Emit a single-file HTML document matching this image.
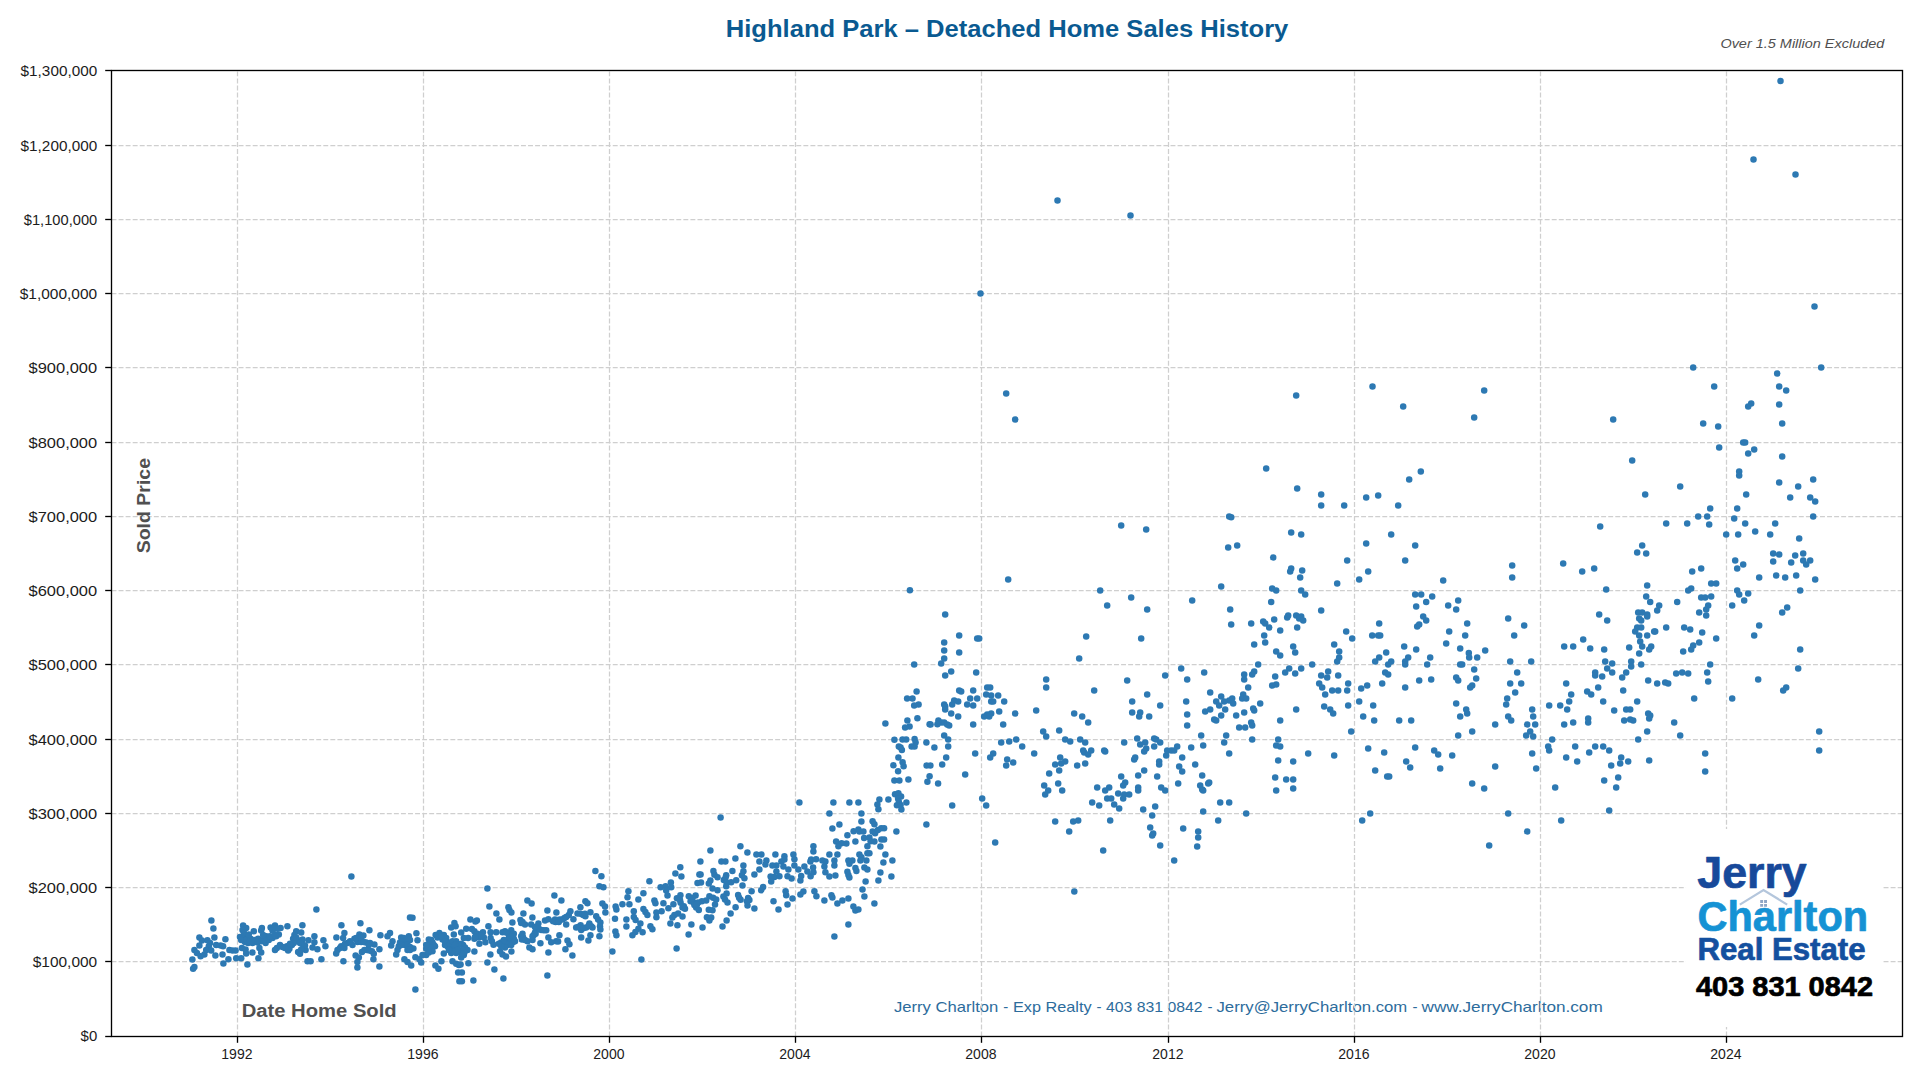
<!DOCTYPE html><html><head><meta charset="utf-8"><title>Highland Park – Detached Home Sales History</title>
<style>html,body{margin:0;padding:0;background:#fff;}body{width:1920px;height:1080px;overflow:hidden;}svg{display:block;font-family:"Liberation Sans",sans-serif;}</style></head><body>
<svg width="1920" height="1080" viewBox="0 0 1920 1080">
<rect width="1920" height="1080" fill="#fff"/>
<g font-size="15" fill="#2d6c9c">
<text x="893.9" y="1011.8" textLength="104.4" lengthAdjust="spacingAndGlyphs">Jerry Charlton</text>
<text x="1003.3" y="1011.8" textLength="5" lengthAdjust="spacingAndGlyphs">-</text>
<text x="1013.0" y="1011.8" textLength="78.6" lengthAdjust="spacingAndGlyphs">Exp Realty</text>
<text x="1096.6" y="1011.8" textLength="5" lengthAdjust="spacingAndGlyphs">-</text>
<text x="1105.9" y="1011.8" textLength="96.7" lengthAdjust="spacingAndGlyphs">403 831 0842</text>
<text x="1207.4" y="1011.8" textLength="5" lengthAdjust="spacingAndGlyphs">-</text>
<text x="1216.5" y="1011.8" textLength="190.8" lengthAdjust="spacingAndGlyphs">Jerry@JerryCharlton.com</text>
<text x="1412.5" y="1011.8" textLength="5" lengthAdjust="spacingAndGlyphs">-</text>
<text x="1421.5" y="1011.8" textLength="181.2" lengthAdjust="spacingAndGlyphs">www.JerryCharlton.com</text>
</g>
<g stroke="#cfcfcf" stroke-width="1.25" stroke-dasharray="4.93 2.13" fill="none">
<path d="M237.5 1036.5V70.5"/>
<path d="M423.5 1036.5V70.5"/>
<path d="M609.5 1036.5V70.5"/>
<path d="M795.5 1036.5V70.5"/>
<path d="M981.5 1036.5V70.5"/>
<path d="M1168.5 1036.5V70.5"/>
<path d="M1354.5 1036.5V70.5"/>
<path d="M1540.5 1036.5V70.5"/>
<path d="M1726.5 1036.5V70.5"/>
<path d="M111.5 961.5H1902.5"/>
<path d="M111.5 887.5H1902.5"/>
<path d="M111.5 813.5H1902.5"/>
<path d="M111.5 739.5H1902.5"/>
<path d="M111.5 664.5H1902.5"/>
<path d="M111.5 590.5H1902.5"/>
<path d="M111.5 516.5H1902.5"/>
<path d="M111.5 442.5H1902.5"/>
<path d="M111.5 367.5H1902.5"/>
<path d="M111.5 293.5H1902.5"/>
<path d="M111.5 219.5H1902.5"/>
<path d="M111.5 145.5H1902.5"/>
</g>
<text x="241.7" y="1016.7" font-size="18" font-weight="bold" fill="#505050" textLength="155" lengthAdjust="spacingAndGlyphs">Date Home Sold</text>
<text transform="translate(150.1 553.3) rotate(-90)" font-size="18" font-weight="bold" fill="#505050" textLength="95.3" lengthAdjust="spacingAndGlyphs">Sold Price</text>
<g fill="#2d79b3">
<circle cx="1780.5" cy="81" r="3.25"/><circle cx="1753.5" cy="159.5" r="3.25"/><circle cx="1795.5" cy="174.5" r="3.25"/><circle cx="1057.5" cy="200.5" r="3.25"/><circle cx="1130.5" cy="215.5" r="3.25"/><circle cx="980.5" cy="293.5" r="3.25"/><circle cx="1814.5" cy="306.5" r="3.25"/><circle cx="1006.2" cy="393.5" r="3.25"/><circle cx="1015.2" cy="419.5" r="3.25"/><circle cx="1296.2" cy="395.5" r="3.25"/><circle cx="1372.5" cy="386.5" r="3.25"/><circle cx="1403.2" cy="406.5" r="3.25"/><circle cx="1266.2" cy="468.5" r="3.25"/><circle cx="1409.2" cy="479.5" r="3.25"/><circle cx="1297.2" cy="488.5" r="3.25"/><circle cx="1321.2" cy="494.5" r="3.25"/><circle cx="1366.2" cy="497.5" r="3.25"/><circle cx="1378.2" cy="495.5" r="3.25"/><circle cx="1321.2" cy="505.5" r="3.25"/><circle cx="1344.2" cy="505.5" r="3.25"/><circle cx="1398.2" cy="505.5" r="3.25"/><circle cx="1229.2" cy="516.5" r="3.25"/><circle cx="1231.2" cy="517.2" r="3.25"/><circle cx="1121.2" cy="525.5" r="3.25"/><circle cx="1146.2" cy="529.5" r="3.25"/><circle cx="1291.2" cy="532.5" r="3.25"/><circle cx="1301.2" cy="534.5" r="3.25"/><circle cx="1391.2" cy="534.5" r="3.25"/><circle cx="1237.2" cy="545.5" r="3.25"/><circle cx="1228.2" cy="547.5" r="3.25"/><circle cx="1366.2" cy="543.5" r="3.25"/><circle cx="1415.2" cy="545.5" r="3.25"/><circle cx="1273.2" cy="557.5" r="3.25"/><circle cx="1347.2" cy="560.5" r="3.25"/><circle cx="1405.2" cy="560.5" r="3.25"/><circle cx="1291.2" cy="568.5" r="3.25"/><circle cx="1290.2" cy="571.5" r="3.25"/><circle cx="1302.2" cy="570.5" r="3.25"/><circle cx="1368.2" cy="571.5" r="3.25"/><circle cx="1300.2" cy="577.5" r="3.25"/><circle cx="1008.2" cy="579.5" r="3.25"/><circle cx="1359.2" cy="579.5" r="3.25"/><circle cx="1337.2" cy="583.5" r="3.25"/><circle cx="1221.2" cy="586.5" r="3.25"/><circle cx="1100.2" cy="590.5" r="3.25"/><circle cx="1272.2" cy="588.5" r="3.25"/><circle cx="1276.2" cy="590.5" r="3.25"/><circle cx="1301.2" cy="590.5" r="3.25"/><circle cx="1305.2" cy="594.5" r="3.25"/><circle cx="1131.2" cy="597.5" r="3.25"/><circle cx="1415.2" cy="594.5" r="3.25"/><circle cx="1484.2" cy="390.5" r="3.25"/><circle cx="1474.2" cy="417.5" r="3.25"/><circle cx="1420.8" cy="471.5" r="3.25"/><circle cx="1613.2" cy="419.5" r="3.25"/><circle cx="1693.2" cy="367.5" r="3.25"/><circle cx="1821.2" cy="367.5" r="3.25"/><circle cx="1777.2" cy="373.5" r="3.25"/><circle cx="1714.2" cy="386.5" r="3.25"/><circle cx="1779.2" cy="386.5" r="3.25"/><circle cx="1786.2" cy="390.5" r="3.25"/><circle cx="1751.2" cy="403.5" r="3.25"/><circle cx="1748.2" cy="406.5" r="3.25"/><circle cx="1779.2" cy="404.5" r="3.25"/><circle cx="1703.2" cy="423.5" r="3.25"/><circle cx="1718.2" cy="426.5" r="3.25"/><circle cx="1782.2" cy="423.5" r="3.25"/><circle cx="1743.2" cy="442.5" r="3.25"/><circle cx="1745.2" cy="442.5" r="3.25"/><circle cx="1719.2" cy="447.5" r="3.25"/><circle cx="1754.2" cy="449.5" r="3.25"/><circle cx="1748.2" cy="453.5" r="3.25"/><circle cx="1782.2" cy="456.5" r="3.25"/><circle cx="1632.2" cy="460.5" r="3.25"/><circle cx="1739.2" cy="471.5" r="3.25"/><circle cx="1739.2" cy="475.5" r="3.25"/><circle cx="1779.2" cy="482.5" r="3.25"/><circle cx="1813.2" cy="479.5" r="3.25"/><circle cx="1798.2" cy="486.5" r="3.25"/><circle cx="1680.2" cy="486.5" r="3.25"/><circle cx="1645.2" cy="494.5" r="3.25"/><circle cx="1746.2" cy="494.5" r="3.25"/><circle cx="1790.2" cy="497.5" r="3.25"/><circle cx="1810.2" cy="497.5" r="3.25"/><circle cx="1815.2" cy="501.5" r="3.25"/><circle cx="1710.2" cy="508.5" r="3.25"/><circle cx="1737.2" cy="508.5" r="3.25"/><circle cx="1698.2" cy="516.5" r="3.25"/><circle cx="1707.2" cy="516.5" r="3.25"/><circle cx="1813.2" cy="516.5" r="3.25"/><circle cx="1734.2" cy="518.5" r="3.25"/><circle cx="1666.2" cy="523.5" r="3.25"/><circle cx="1687.2" cy="523.5" r="3.25"/><circle cx="1709.2" cy="524.5" r="3.25"/><circle cx="1745.2" cy="523.5" r="3.25"/><circle cx="1775.2" cy="523.5" r="3.25"/><circle cx="1600.2" cy="526.5" r="3.25"/><circle cx="1755.2" cy="531.5" r="3.25"/><circle cx="1726.2" cy="534.5" r="3.25"/><circle cx="1738.2" cy="534.5" r="3.25"/><circle cx="1770.2" cy="534.5" r="3.25"/><circle cx="1799.2" cy="538.5" r="3.25"/><circle cx="1642.2" cy="545.5" r="3.25"/><circle cx="1637.2" cy="552.5" r="3.25"/><circle cx="1646.2" cy="553.5" r="3.25"/><circle cx="1773.2" cy="553.5" r="3.25"/><circle cx="1779.2" cy="554.5" r="3.25"/><circle cx="1803.2" cy="553.5" r="3.25"/><circle cx="1795.2" cy="555.5" r="3.25"/><circle cx="1735.2" cy="560.5" r="3.25"/><circle cx="1773.2" cy="561.5" r="3.25"/><circle cx="1803.2" cy="560.5" r="3.25"/><circle cx="1810.2" cy="560.5" r="3.25"/><circle cx="1791.2" cy="562.5" r="3.25"/><circle cx="1806.2" cy="564.5" r="3.25"/><circle cx="1743.2" cy="564.5" r="3.25"/><circle cx="1737.2" cy="568.5" r="3.25"/><circle cx="1701.2" cy="568.5" r="3.25"/><circle cx="1563.2" cy="563.5" r="3.25"/><circle cx="1512.2" cy="565.5" r="3.25"/><circle cx="1582.2" cy="571.5" r="3.25"/><circle cx="1594.2" cy="568.5" r="3.25"/><circle cx="1692.2" cy="571.5" r="3.25"/><circle cx="1512.2" cy="577.5" r="3.25"/><circle cx="1443.2" cy="580.5" r="3.25"/><circle cx="1759.2" cy="577.5" r="3.25"/><circle cx="1776.2" cy="575.5" r="3.25"/><circle cx="1785.2" cy="577.5" r="3.25"/><circle cx="1796.2" cy="575.5" r="3.25"/><circle cx="1815.2" cy="579.5" r="3.25"/><circle cx="1711.2" cy="583.5" r="3.25"/><circle cx="1716.2" cy="583.5" r="3.25"/><circle cx="1647.2" cy="585.5" r="3.25"/><circle cx="1691.2" cy="588.5" r="3.25"/><circle cx="1688.2" cy="590.5" r="3.25"/><circle cx="1606.2" cy="589.5" r="3.25"/><circle cx="1737.2" cy="590.5" r="3.25"/><circle cx="1800.2" cy="590.5" r="3.25"/><circle cx="1739.2" cy="594.5" r="3.25"/><circle cx="1748.2" cy="593.5" r="3.25"/><circle cx="1421.2" cy="594.5" r="3.25"/><circle cx="1432.2" cy="596.5" r="3.25"/><circle cx="1646.2" cy="596.5" r="3.25"/><circle cx="1701.2" cy="597.5" r="3.25"/><circle cx="1705.2" cy="597.5" r="3.25"/><circle cx="1711.2" cy="596.5" r="3.25"/><circle cx="1426.2" cy="602" r="3.25"/><circle cx="1458.2" cy="600.5" r="3.25"/><circle cx="1448.2" cy="605.5" r="3.25"/><circle cx="1456.2" cy="609.5" r="3.25"/><circle cx="1423.2" cy="616.5" r="3.25"/><circle cx="1426.2" cy="620.5" r="3.25"/><circle cx="1467.2" cy="623.5" r="3.25"/><circle cx="1508.2" cy="618.5" r="3.25"/><circle cx="1524.2" cy="625.5" r="3.25"/><circle cx="1449.2" cy="631.5" r="3.25"/><circle cx="1465.2" cy="635.5" r="3.25"/><circle cx="1514.2" cy="635.5" r="3.25"/><circle cx="1446.2" cy="643.5" r="3.25"/><circle cx="1460.2" cy="648.5" r="3.25"/><circle cx="1485.2" cy="650.5" r="3.25"/><circle cx="1468.8" cy="653" r="3.25"/><circle cx="1469.2" cy="657.5" r="3.25"/><circle cx="1477.2" cy="657.5" r="3.25"/><circle cx="1430.2" cy="657.5" r="3.25"/><circle cx="1427.2" cy="664.5" r="3.25"/><circle cx="1460.2" cy="664.5" r="3.25"/><circle cx="1462.2" cy="664.5" r="3.25"/><circle cx="1510.2" cy="661.5" r="3.25"/><circle cx="1531.2" cy="661.5" r="3.25"/><circle cx="1474.2" cy="669.5" r="3.25"/><circle cx="1517.2" cy="672.5" r="3.25"/><circle cx="1456.2" cy="677.5" r="3.25"/><circle cx="1458.2" cy="680.5" r="3.25"/><circle cx="1476.2" cy="678.5" r="3.25"/><circle cx="1431.2" cy="679.5" r="3.25"/><circle cx="1472.2" cy="685.5" r="3.25"/><circle cx="1470.2" cy="687.5" r="3.25"/><circle cx="1510.2" cy="683.5" r="3.25"/><circle cx="1521.2" cy="683.5" r="3.25"/><circle cx="1515.2" cy="692.5" r="3.25"/><circle cx="1507.2" cy="698.5" r="3.25"/><circle cx="1506.2" cy="704.5" r="3.25"/><circle cx="1456.2" cy="703.5" r="3.25"/><circle cx="1466.2" cy="709.5" r="3.25"/><circle cx="1467.2" cy="713.5" r="3.25"/><circle cx="1460.2" cy="716.5" r="3.25"/><circle cx="1532.2" cy="709.5" r="3.25"/><circle cx="1533.2" cy="716.5" r="3.25"/><circle cx="1508.2" cy="716.5" r="3.25"/><circle cx="1511.2" cy="720.5" r="3.25"/><circle cx="1495.2" cy="724.5" r="3.25"/><circle cx="1527.2" cy="724.5" r="3.25"/><circle cx="1535.2" cy="724.5" r="3.25"/><circle cx="1472.2" cy="731.5" r="3.25"/><circle cx="1530.2" cy="731.5" r="3.25"/><circle cx="1458.2" cy="735.5" r="3.25"/><circle cx="1526.2" cy="735.5" r="3.25"/><circle cx="1533.2" cy="736.5" r="3.25"/><circle cx="1434.2" cy="750.5" r="3.25"/><circle cx="1438.2" cy="754.5" r="3.25"/><circle cx="1452.2" cy="755.5" r="3.25"/><circle cx="1532.2" cy="753.5" r="3.25"/><circle cx="1440.2" cy="768.5" r="3.25"/><circle cx="1495.2" cy="766.5" r="3.25"/><circle cx="1536.2" cy="768.5" r="3.25"/><circle cx="1472.2" cy="783.5" r="3.25"/><circle cx="1484.2" cy="788.5" r="3.25"/><circle cx="1508.2" cy="813.5" r="3.25"/><circle cx="1527.2" cy="831.5" r="3.25"/><circle cx="1489.2" cy="845.5" r="3.25"/><circle cx="1650.2" cy="602" r="3.25"/><circle cx="1659.2" cy="605.5" r="3.25"/><circle cx="1677.2" cy="602" r="3.25"/><circle cx="1708.2" cy="605.5" r="3.25"/><circle cx="1657.2" cy="610.5" r="3.25"/><circle cx="1638.2" cy="612.5" r="3.25"/><circle cx="1642.2" cy="612.5" r="3.25"/><circle cx="1647.2" cy="614.5" r="3.25"/><circle cx="1647.2" cy="616.5" r="3.25"/><circle cx="1599.2" cy="614.5" r="3.25"/><circle cx="1607.2" cy="620.5" r="3.25"/><circle cx="1639.2" cy="618.5" r="3.25"/><circle cx="1641.2" cy="620.5" r="3.25"/><circle cx="1699.2" cy="612.5" r="3.25"/><circle cx="1706.2" cy="609.5" r="3.25"/><circle cx="1706.2" cy="615.5" r="3.25"/><circle cx="1637.2" cy="627.5" r="3.25"/><circle cx="1641.2" cy="627.5" r="3.25"/><circle cx="1635.2" cy="631.5" r="3.25"/><circle cx="1639.2" cy="635.5" r="3.25"/><circle cx="1647.2" cy="635.5" r="3.25"/><circle cx="1654.2" cy="631.5" r="3.25"/><circle cx="1655.2" cy="631.5" r="3.25"/><circle cx="1666.2" cy="627.5" r="3.25"/><circle cx="1684.2" cy="627.5" r="3.25"/><circle cx="1690.2" cy="629.5" r="3.25"/><circle cx="1702.2" cy="632.5" r="3.25"/><circle cx="1716.2" cy="638.5" r="3.25"/><circle cx="1583.2" cy="639.5" r="3.25"/><circle cx="1640.2" cy="641.5" r="3.25"/><circle cx="1642.2" cy="646.5" r="3.25"/><circle cx="1651.2" cy="646.5" r="3.25"/><circle cx="1649.2" cy="649.5" r="3.25"/><circle cx="1629.2" cy="647.5" r="3.25"/><circle cx="1639.2" cy="653.5" r="3.25"/><circle cx="1564.2" cy="646.5" r="3.25"/><circle cx="1573.2" cy="646.5" r="3.25"/><circle cx="1590.2" cy="648.5" r="3.25"/><circle cx="1604.2" cy="649.5" r="3.25"/><circle cx="1699.2" cy="642.5" r="3.25"/><circle cx="1693.2" cy="645.5" r="3.25"/><circle cx="1691.2" cy="649.5" r="3.25"/><circle cx="1683.2" cy="651.5" r="3.25"/><circle cx="1605.2" cy="661.5" r="3.25"/><circle cx="1612.2" cy="663.5" r="3.25"/><circle cx="1631.2" cy="661.5" r="3.25"/><circle cx="1631.2" cy="666.5" r="3.25"/><circle cx="1641.2" cy="664.5" r="3.25"/><circle cx="1607.2" cy="668.5" r="3.25"/><circle cx="1612.2" cy="672.5" r="3.25"/><circle cx="1626.2" cy="672.5" r="3.25"/><circle cx="1595.2" cy="672.5" r="3.25"/><circle cx="1595.2" cy="675.5" r="3.25"/><circle cx="1602.2" cy="676.5" r="3.25"/><circle cx="1622.2" cy="677.5" r="3.25"/><circle cx="1710.2" cy="664.5" r="3.25"/><circle cx="1707.2" cy="672.5" r="3.25"/><circle cx="1708.2" cy="681.5" r="3.25"/><circle cx="1676.2" cy="673.5" r="3.25"/><circle cx="1682.2" cy="672.5" r="3.25"/><circle cx="1688.2" cy="673.5" r="3.25"/><circle cx="1648.2" cy="680.5" r="3.25"/><circle cx="1657.2" cy="683.5" r="3.25"/><circle cx="1665.2" cy="682.5" r="3.25"/><circle cx="1668.2" cy="683.5" r="3.25"/><circle cx="1566.2" cy="683.5" r="3.25"/><circle cx="1598.2" cy="687.5" r="3.25"/><circle cx="1623.2" cy="690.5" r="3.25"/><circle cx="1587.2" cy="691.5" r="3.25"/><circle cx="1591.2" cy="694.5" r="3.25"/><circle cx="1571.2" cy="694.5" r="3.25"/><circle cx="1569.2" cy="701.5" r="3.25"/><circle cx="1603.2" cy="701.5" r="3.25"/><circle cx="1637.2" cy="701.5" r="3.25"/><circle cx="1694.2" cy="698.5" r="3.25"/><circle cx="1549.2" cy="705.5" r="3.25"/><circle cx="1560.2" cy="705.5" r="3.25"/><circle cx="1567.2" cy="709.5" r="3.25"/><circle cx="1614.2" cy="710.5" r="3.25"/><circle cx="1626.2" cy="709.5" r="3.25"/><circle cx="1630.2" cy="709.5" r="3.25"/><circle cx="1648.2" cy="713.5" r="3.25"/><circle cx="1650.2" cy="715.5" r="3.25"/><circle cx="1649.2" cy="718.5" r="3.25"/><circle cx="1588.2" cy="718.5" r="3.25"/><circle cx="1588.2" cy="722.5" r="3.25"/><circle cx="1573.2" cy="722.5" r="3.25"/><circle cx="1564.2" cy="724.5" r="3.25"/><circle cx="1624.2" cy="720.5" r="3.25"/><circle cx="1630.2" cy="719.5" r="3.25"/><circle cx="1633.2" cy="720.5" r="3.25"/><circle cx="1674.2" cy="722.5" r="3.25"/><circle cx="1647.2" cy="731.5" r="3.25"/><circle cx="1680.2" cy="735.5" r="3.25"/><circle cx="1638.2" cy="739.5" r="3.25"/><circle cx="1552.2" cy="739.5" r="3.25"/><circle cx="1548.2" cy="746.5" r="3.25"/><circle cx="1549.2" cy="750.5" r="3.25"/><circle cx="1575.2" cy="746.5" r="3.25"/><circle cx="1595.2" cy="746.5" r="3.25"/><circle cx="1603.2" cy="746.5" r="3.25"/><circle cx="1609.2" cy="750.5" r="3.25"/><circle cx="1589.2" cy="752.5" r="3.25"/><circle cx="1566.2" cy="757.5" r="3.25"/><circle cx="1577.2" cy="761.5" r="3.25"/><circle cx="1621.2" cy="757.5" r="3.25"/><circle cx="1628.2" cy="761.5" r="3.25"/><circle cx="1620.2" cy="763.5" r="3.25"/><circle cx="1611.2" cy="765.5" r="3.25"/><circle cx="1649.2" cy="760.5" r="3.25"/><circle cx="1705.2" cy="753.5" r="3.25"/><circle cx="1705.2" cy="771.5" r="3.25"/><circle cx="1618.2" cy="777.5" r="3.25"/><circle cx="1604.2" cy="780.5" r="3.25"/><circle cx="1616.2" cy="787.5" r="3.25"/><circle cx="1555.2" cy="787.5" r="3.25"/><circle cx="1609.2" cy="810.5" r="3.25"/><circle cx="1561.2" cy="820.5" r="3.25"/><circle cx="1732.2" cy="605.5" r="3.25"/><circle cx="1744.2" cy="600.5" r="3.25"/><circle cx="1787.2" cy="607.5" r="3.25"/><circle cx="1782.2" cy="612.5" r="3.25"/><circle cx="1759.2" cy="625.5" r="3.25"/><circle cx="1754.2" cy="635.5" r="3.25"/><circle cx="1800.2" cy="649.5" r="3.25"/><circle cx="1798.2" cy="668.5" r="3.25"/><circle cx="1758.2" cy="679.5" r="3.25"/><circle cx="1786.2" cy="687.5" r="3.25"/><circle cx="1783.2" cy="690.5" r="3.25"/><circle cx="1732.2" cy="698.5" r="3.25"/><circle cx="1819.2" cy="731.5" r="3.25"/><circle cx="1819.2" cy="750.5" r="3.25"/><circle cx="945.2" cy="614.5" r="3.25"/><circle cx="959.2" cy="635.5" r="3.25"/><circle cx="944.2" cy="642.5" r="3.25"/><circle cx="977.2" cy="638.5" r="3.25"/><circle cx="979.2" cy="638.5" r="3.25"/><circle cx="944.2" cy="650.5" r="3.25"/><circle cx="959.2" cy="652.5" r="3.25"/><circle cx="944.2" cy="658.5" r="3.25"/><circle cx="941.2" cy="663.5" r="3.25"/><circle cx="951.2" cy="671.5" r="3.25"/><circle cx="945.2" cy="675.5" r="3.25"/><circle cx="976.2" cy="672.5" r="3.25"/><circle cx="959.2" cy="690.5" r="3.25"/><circle cx="961.2" cy="691.5" r="3.25"/><circle cx="973.2" cy="690.5" r="3.25"/><circle cx="970.2" cy="698.5" r="3.25"/><circle cx="977.2" cy="698.5" r="3.25"/><circle cx="954.2" cy="700.5" r="3.25"/><circle cx="958.2" cy="701.5" r="3.25"/><circle cx="952.2" cy="704.5" r="3.25"/><circle cx="944.2" cy="704.5" r="3.25"/><circle cx="945.2" cy="706.5" r="3.25"/><circle cx="945.2" cy="709.5" r="3.25"/><circle cx="967.2" cy="704.5" r="3.25"/><circle cx="973.2" cy="705.5" r="3.25"/><circle cx="951.2" cy="713.5" r="3.25"/><circle cx="958.2" cy="716.5" r="3.25"/><circle cx="941.2" cy="722.5" r="3.25"/><circle cx="944.2" cy="722.5" r="3.25"/><circle cx="947.2" cy="724.5" r="3.25"/><circle cx="949.2" cy="725.5" r="3.25"/><circle cx="973.2" cy="724.5" r="3.25"/><circle cx="944.2" cy="735.5" r="3.25"/><circle cx="948.2" cy="739.5" r="3.25"/><circle cx="948.2" cy="746.5" r="3.25"/><circle cx="975.2" cy="753.5" r="3.25"/><circle cx="946.2" cy="757.5" r="3.25"/><circle cx="942.2" cy="764.5" r="3.25"/><circle cx="965.2" cy="774.5" r="3.25"/><circle cx="952.2" cy="805.5" r="3.25"/><circle cx="1107.2" cy="605.5" r="3.25"/><circle cx="1147.2" cy="609.5" r="3.25"/><circle cx="1086.2" cy="636.5" r="3.25"/><circle cx="1141.2" cy="638.5" r="3.25"/><circle cx="1079.2" cy="658.5" r="3.25"/><circle cx="1165.2" cy="675.5" r="3.25"/><circle cx="1046.2" cy="679.5" r="3.25"/><circle cx="1127.2" cy="680.5" r="3.25"/><circle cx="1046.2" cy="687.5" r="3.25"/><circle cx="987.2" cy="687.5" r="3.25"/><circle cx="990.2" cy="687.5" r="3.25"/><circle cx="1094.2" cy="690.5" r="3.25"/><circle cx="986.2" cy="694.5" r="3.25"/><circle cx="991.2" cy="695.5" r="3.25"/><circle cx="998.2" cy="695.5" r="3.25"/><circle cx="1147.2" cy="694.5" r="3.25"/><circle cx="991.2" cy="701.5" r="3.25"/><circle cx="993.2" cy="701.5" r="3.25"/><circle cx="1004.2" cy="701.5" r="3.25"/><circle cx="1132.2" cy="701.5" r="3.25"/><circle cx="1160.2" cy="705.5" r="3.25"/><circle cx="1036.2" cy="710.5" r="3.25"/><circle cx="999.2" cy="711.5" r="3.25"/><circle cx="1015.2" cy="713.5" r="3.25"/><circle cx="987.2" cy="714.5" r="3.25"/><circle cx="991.2" cy="713.5" r="3.25"/><circle cx="984.2" cy="716.5" r="3.25"/><circle cx="989.2" cy="716.5" r="3.25"/><circle cx="1132.2" cy="712.5" r="3.25"/><circle cx="1140.2" cy="712.5" r="3.25"/><circle cx="1139.2" cy="716.5" r="3.25"/><circle cx="1149.2" cy="716.5" r="3.25"/><circle cx="1074.2" cy="713.5" r="3.25"/><circle cx="1082.2" cy="716.5" r="3.25"/><circle cx="1088.2" cy="722.5" r="3.25"/><circle cx="1003.2" cy="724.5" r="3.25"/><circle cx="1043.2" cy="731.5" r="3.25"/><circle cx="1059.2" cy="730.5" r="3.25"/><circle cx="1046.2" cy="736.5" r="3.25"/><circle cx="1065.2" cy="739.5" r="3.25"/><circle cx="1070.2" cy="741.5" r="3.25"/><circle cx="1080.2" cy="739.5" r="3.25"/><circle cx="1085.2" cy="742.5" r="3.25"/><circle cx="1137.2" cy="738.5" r="3.25"/><circle cx="1154.2" cy="738.5" r="3.25"/><circle cx="1156.2" cy="739.5" r="3.25"/><circle cx="1160.2" cy="742.5" r="3.25"/><circle cx="1124.2" cy="742.5" r="3.25"/><circle cx="1016.2" cy="739.5" r="3.25"/><circle cx="1009.2" cy="741.5" r="3.25"/><circle cx="1001.2" cy="742.5" r="3.25"/><circle cx="1022.2" cy="746.5" r="3.25"/><circle cx="1145.2" cy="742.5" r="3.25"/><circle cx="1140.2" cy="744.5" r="3.25"/><circle cx="1154.2" cy="746.5" r="3.25"/><circle cx="1146.2" cy="748.5" r="3.25"/><circle cx="1144.2" cy="751.5" r="3.25"/><circle cx="1034.2" cy="753.5" r="3.25"/><circle cx="1083.2" cy="750.5" r="3.25"/><circle cx="1091.2" cy="750.5" r="3.25"/><circle cx="1084.2" cy="752.5" r="3.25"/><circle cx="1088.2" cy="754.5" r="3.25"/><circle cx="1104.2" cy="750.5" r="3.25"/><circle cx="1105.2" cy="751.5" r="3.25"/><circle cx="993.2" cy="753.5" r="3.25"/><circle cx="990.2" cy="757.5" r="3.25"/><circle cx="1007.2" cy="759.5" r="3.25"/><circle cx="1013.2" cy="762.5" r="3.25"/><circle cx="1006.2" cy="765.5" r="3.25"/><circle cx="1060.2" cy="757.5" r="3.25"/><circle cx="1065.2" cy="761.5" r="3.25"/><circle cx="1061.2" cy="763.5" r="3.25"/><circle cx="1055.2" cy="764.5" r="3.25"/><circle cx="1077.2" cy="765.5" r="3.25"/><circle cx="1085.2" cy="763.5" r="3.25"/><circle cx="1135.2" cy="757.5" r="3.25"/><circle cx="1134.2" cy="759.5" r="3.25"/><circle cx="1159.2" cy="761.5" r="3.25"/><circle cx="1159.2" cy="764.5" r="3.25"/><circle cx="1166.2" cy="755.5" r="3.25"/><circle cx="1167.2" cy="750.5" r="3.25"/><circle cx="1059.2" cy="770.5" r="3.25"/><circle cx="1049.2" cy="773.5" r="3.25"/><circle cx="1144.2" cy="770.5" r="3.25"/><circle cx="1138.2" cy="775.5" r="3.25"/><circle cx="1157.2" cy="776.5" r="3.25"/><circle cx="1121.2" cy="776.5" r="3.25"/><circle cx="1125.2" cy="782.5" r="3.25"/><circle cx="1123.2" cy="785.5" r="3.25"/><circle cx="1058.2" cy="783.5" r="3.25"/><circle cx="1044.2" cy="785.5" r="3.25"/><circle cx="1062.2" cy="790.5" r="3.25"/><circle cx="1048.2" cy="790.5" r="3.25"/><circle cx="1045.2" cy="794.5" r="3.25"/><circle cx="1097.2" cy="787.5" r="3.25"/><circle cx="1109.2" cy="787.5" r="3.25"/><circle cx="1105.2" cy="790.5" r="3.25"/><circle cx="1138.2" cy="787.5" r="3.25"/><circle cx="1138.2" cy="790.5" r="3.25"/><circle cx="1161.2" cy="787.5" r="3.25"/><circle cx="1165.2" cy="790.5" r="3.25"/><circle cx="1118.2" cy="793.5" r="3.25"/><circle cx="1124.2" cy="794.5" r="3.25"/><circle cx="1129.2" cy="794.5" r="3.25"/><circle cx="1123.2" cy="798.5" r="3.25"/><circle cx="1107.2" cy="798.5" r="3.25"/><circle cx="1111.2" cy="798.5" r="3.25"/><circle cx="1114.2" cy="804.5" r="3.25"/><circle cx="1092.2" cy="802.5" r="3.25"/><circle cx="1099.2" cy="805.5" r="3.25"/><circle cx="1119.2" cy="808.5" r="3.25"/><circle cx="1143.2" cy="809.5" r="3.25"/><circle cx="1155.2" cy="806.5" r="3.25"/><circle cx="1152.2" cy="815.5" r="3.25"/><circle cx="982.2" cy="798.5" r="3.25"/><circle cx="986.2" cy="805.5" r="3.25"/><circle cx="1055.2" cy="821.5" r="3.25"/><circle cx="1073.2" cy="821.5" r="3.25"/><circle cx="1078.2" cy="820.5" r="3.25"/><circle cx="1110.2" cy="820.5" r="3.25"/><circle cx="1069.2" cy="831.5" r="3.25"/><circle cx="1150.2" cy="827.5" r="3.25"/><circle cx="1153.2" cy="833.5" r="3.25"/><circle cx="1152.2" cy="835.5" r="3.25"/><circle cx="995.2" cy="842.5" r="3.25"/><circle cx="1160.2" cy="845.5" r="3.25"/><circle cx="1103.2" cy="850.5" r="3.25"/><circle cx="1192.2" cy="600.5" r="3.25"/><circle cx="1271.2" cy="602" r="3.25"/><circle cx="1230.2" cy="609.5" r="3.25"/><circle cx="1321.2" cy="610.5" r="3.25"/><circle cx="1274.2" cy="619.5" r="3.25"/><circle cx="1287.2" cy="617.5" r="3.25"/><circle cx="1288.2" cy="615.5" r="3.25"/><circle cx="1296.2" cy="615.5" r="3.25"/><circle cx="1301.2" cy="616.5" r="3.25"/><circle cx="1299.2" cy="618.5" r="3.25"/><circle cx="1303.2" cy="620.5" r="3.25"/><circle cx="1263.2" cy="621.5" r="3.25"/><circle cx="1265.2" cy="623.5" r="3.25"/><circle cx="1269.2" cy="627.5" r="3.25"/><circle cx="1251.2" cy="623.5" r="3.25"/><circle cx="1231.2" cy="624.5" r="3.25"/><circle cx="1297.2" cy="627.5" r="3.25"/><circle cx="1280.2" cy="630.5" r="3.25"/><circle cx="1264.2" cy="635.5" r="3.25"/><circle cx="1346.2" cy="631.5" r="3.25"/><circle cx="1352.2" cy="638.5" r="3.25"/><circle cx="1265.2" cy="642.5" r="3.25"/><circle cx="1254.2" cy="644.5" r="3.25"/><circle cx="1334.2" cy="644.5" r="3.25"/><circle cx="1293.2" cy="646.5" r="3.25"/><circle cx="1276.2" cy="651.5" r="3.25"/><circle cx="1295.2" cy="652.5" r="3.25"/><circle cx="1280.2" cy="655.5" r="3.25"/><circle cx="1339.2" cy="651.5" r="3.25"/><circle cx="1339.2" cy="657.5" r="3.25"/><circle cx="1337.2" cy="661.5" r="3.25"/><circle cx="1258.2" cy="664.5" r="3.25"/><circle cx="1312.2" cy="664.5" r="3.25"/><circle cx="1181.2" cy="668.5" r="3.25"/><circle cx="1204.2" cy="672.5" r="3.25"/><circle cx="1301.2" cy="668.5" r="3.25"/><circle cx="1289.2" cy="668.5" r="3.25"/><circle cx="1285.2" cy="672.5" r="3.25"/><circle cx="1295.2" cy="673.5" r="3.25"/><circle cx="1254.2" cy="671.5" r="3.25"/><circle cx="1252.2" cy="674.5" r="3.25"/><circle cx="1244.2" cy="674.5" r="3.25"/><circle cx="1328.2" cy="671.5" r="3.25"/><circle cx="1321.2" cy="675.5" r="3.25"/><circle cx="1327.2" cy="677.5" r="3.25"/><circle cx="1338.2" cy="675.5" r="3.25"/><circle cx="1275.2" cy="676.5" r="3.25"/><circle cx="1187.2" cy="679.5" r="3.25"/><circle cx="1244.2" cy="679.5" r="3.25"/><circle cx="1276.2" cy="684.5" r="3.25"/><circle cx="1272.2" cy="685.5" r="3.25"/><circle cx="1319.2" cy="683.5" r="3.25"/><circle cx="1322.2" cy="687.5" r="3.25"/><circle cx="1348.2" cy="683.5" r="3.25"/><circle cx="1248.2" cy="687.5" r="3.25"/><circle cx="1332.2" cy="690.5" r="3.25"/><circle cx="1338.2" cy="690.5" r="3.25"/><circle cx="1347.2" cy="690.5" r="3.25"/><circle cx="1210.2" cy="692.5" r="3.25"/><circle cx="1325.2" cy="694.5" r="3.25"/><circle cx="1221.2" cy="696.5" r="3.25"/><circle cx="1243.2" cy="694.5" r="3.25"/><circle cx="1232.2" cy="698.5" r="3.25"/><circle cx="1229.2" cy="700.5" r="3.25"/><circle cx="1216.2" cy="701.5" r="3.25"/><circle cx="1224.2" cy="701.5" r="3.25"/><circle cx="1233.2" cy="703.5" r="3.25"/><circle cx="1242.2" cy="698.5" r="3.25"/><circle cx="1246.2" cy="698.5" r="3.25"/><circle cx="1186.2" cy="701.5" r="3.25"/><circle cx="1260.2" cy="703.5" r="3.25"/><circle cx="1219.2" cy="705.5" r="3.25"/><circle cx="1324.2" cy="706.5" r="3.25"/><circle cx="1348.2" cy="705.5" r="3.25"/><circle cx="1330.2" cy="709.5" r="3.25"/><circle cx="1333.2" cy="713.5" r="3.25"/><circle cx="1296.2" cy="709.5" r="3.25"/><circle cx="1210.2" cy="709.5" r="3.25"/><circle cx="1205.2" cy="711.5" r="3.25"/><circle cx="1225.2" cy="709.5" r="3.25"/><circle cx="1253.2" cy="708.5" r="3.25"/><circle cx="1254.2" cy="710.5" r="3.25"/><circle cx="1244.2" cy="712.5" r="3.25"/><circle cx="1236.2" cy="715.5" r="3.25"/><circle cx="1221.2" cy="715.5" r="3.25"/><circle cx="1187.2" cy="714.5" r="3.25"/><circle cx="1214.2" cy="719.5" r="3.25"/><circle cx="1216.2" cy="720.5" r="3.25"/><circle cx="1280.2" cy="720.5" r="3.25"/><circle cx="1251.2" cy="722.5" r="3.25"/><circle cx="1252.2" cy="725.5" r="3.25"/><circle cx="1187.2" cy="725.5" r="3.25"/><circle cx="1239.2" cy="727.5" r="3.25"/><circle cx="1245.2" cy="727.5" r="3.25"/><circle cx="1351.2" cy="731.5" r="3.25"/><circle cx="1201.2" cy="735.5" r="3.25"/><circle cx="1226.2" cy="735.5" r="3.25"/><circle cx="1278.2" cy="739.5" r="3.25"/><circle cx="1252.2" cy="739.5" r="3.25"/><circle cx="1224.2" cy="742.5" r="3.25"/><circle cx="1203.2" cy="745.5" r="3.25"/><circle cx="1177.2" cy="746.5" r="3.25"/><circle cx="1191.2" cy="747.5" r="3.25"/><circle cx="1276.2" cy="745.5" r="3.25"/><circle cx="1280.2" cy="746.5" r="3.25"/><circle cx="1171.2" cy="750.5" r="3.25"/><circle cx="1174.2" cy="750.5" r="3.25"/><circle cx="1229.2" cy="753.5" r="3.25"/><circle cx="1308.2" cy="753.5" r="3.25"/><circle cx="1334.2" cy="755.5" r="3.25"/><circle cx="1182.2" cy="757.5" r="3.25"/><circle cx="1278.2" cy="760.5" r="3.25"/><circle cx="1293.2" cy="761.5" r="3.25"/><circle cx="1195.2" cy="764.5" r="3.25"/><circle cx="1179.2" cy="766.5" r="3.25"/><circle cx="1182.2" cy="771.5" r="3.25"/><circle cx="1202.2" cy="775.5" r="3.25"/><circle cx="1275.2" cy="777.5" r="3.25"/><circle cx="1286.2" cy="779.5" r="3.25"/><circle cx="1293.2" cy="779.5" r="3.25"/><circle cx="1209.2" cy="782.5" r="3.25"/><circle cx="1208.2" cy="783.5" r="3.25"/><circle cx="1178.2" cy="783.5" r="3.25"/><circle cx="1200.2" cy="785.5" r="3.25"/><circle cx="1202.2" cy="789.5" r="3.25"/><circle cx="1203.2" cy="790.5" r="3.25"/><circle cx="1276.2" cy="790.5" r="3.25"/><circle cx="1293.2" cy="788.5" r="3.25"/><circle cx="1220.2" cy="802.5" r="3.25"/><circle cx="1229.2" cy="802.5" r="3.25"/><circle cx="1203.2" cy="811.5" r="3.25"/><circle cx="1246.2" cy="813.5" r="3.25"/><circle cx="1218.2" cy="820.5" r="3.25"/><circle cx="1183.2" cy="828.5" r="3.25"/><circle cx="1198.2" cy="831.5" r="3.25"/><circle cx="1198.2" cy="837.5" r="3.25"/><circle cx="1197.2" cy="846.5" r="3.25"/><circle cx="1174.2" cy="860.5" r="3.25"/><circle cx="1416.2" cy="606.5" r="3.25"/><circle cx="1379.2" cy="623.5" r="3.25"/><circle cx="1417.2" cy="626.5" r="3.25"/><circle cx="1419.2" cy="624.5" r="3.25"/><circle cx="1372.2" cy="635.5" r="3.25"/><circle cx="1378.2" cy="635.5" r="3.25"/><circle cx="1380.2" cy="635.5" r="3.25"/><circle cx="1404.2" cy="646.5" r="3.25"/><circle cx="1416.2" cy="649.5" r="3.25"/><circle cx="1386.2" cy="652.5" r="3.25"/><circle cx="1379.2" cy="657.5" r="3.25"/><circle cx="1375.2" cy="661.5" r="3.25"/><circle cx="1391.2" cy="661.5" r="3.25"/><circle cx="1388.2" cy="664.5" r="3.25"/><circle cx="1408.2" cy="657.5" r="3.25"/><circle cx="1405.2" cy="661.5" r="3.25"/><circle cx="1405.2" cy="664.5" r="3.25"/><circle cx="1385.2" cy="672.5" r="3.25"/><circle cx="1388.2" cy="674.5" r="3.25"/><circle cx="1419.2" cy="680.5" r="3.25"/><circle cx="1382.2" cy="683.5" r="3.25"/><circle cx="1367.2" cy="685.5" r="3.25"/><circle cx="1361.2" cy="688.5" r="3.25"/><circle cx="1405.2" cy="687.5" r="3.25"/><circle cx="1359.2" cy="701.5" r="3.25"/><circle cx="1373.2" cy="705.5" r="3.25"/><circle cx="1363.2" cy="716.5" r="3.25"/><circle cx="1374.2" cy="720.5" r="3.25"/><circle cx="1399.2" cy="720.5" r="3.25"/><circle cx="1411.2" cy="720.5" r="3.25"/><circle cx="1368.2" cy="748.5" r="3.25"/><circle cx="1384.2" cy="752.5" r="3.25"/><circle cx="1415.2" cy="747.5" r="3.25"/><circle cx="1406.2" cy="761.5" r="3.25"/><circle cx="1410.2" cy="767.5" r="3.25"/><circle cx="1375.2" cy="770.5" r="3.25"/><circle cx="1387.2" cy="776.5" r="3.25"/><circle cx="1389.2" cy="776.5" r="3.25"/><circle cx="1370.2" cy="813.5" r="3.25"/><circle cx="1362.2" cy="820.5" r="3.25"/><circle cx="914.2" cy="664.5" r="3.25"/><circle cx="916.6" cy="691.5" r="3.25"/><circle cx="907.1" cy="698.5" r="3.25"/><circle cx="912.5" cy="698.5" r="3.25"/><circle cx="918.6" cy="704.5" r="3.25"/><circle cx="914.2" cy="705.5" r="3.25"/><circle cx="917.4" cy="718.2" r="3.25"/><circle cx="907.4" cy="720.5" r="3.25"/><circle cx="885.4" cy="723.5" r="3.25"/><circle cx="909.6" cy="726.5" r="3.25"/><circle cx="905.1" cy="727.5" r="3.25"/><circle cx="929.6" cy="724.2" r="3.25"/><circle cx="930.6" cy="724.5" r="3.25"/><circle cx="938.4" cy="720.5" r="3.25"/><circle cx="937.4" cy="724.2" r="3.25"/><circle cx="894.4" cy="739.8" r="3.25"/><circle cx="902.5" cy="739.5" r="3.25"/><circle cx="906.2" cy="739.5" r="3.25"/><circle cx="914.6" cy="739" r="3.25"/><circle cx="915.6" cy="742.5" r="3.25"/><circle cx="911.6" cy="746.5" r="3.25"/><circle cx="914.6" cy="746.5" r="3.25"/><circle cx="926.4" cy="742.5" r="3.25"/><circle cx="934.4" cy="747.5" r="3.25"/><circle cx="898.8" cy="746.5" r="3.25"/><circle cx="900.6" cy="747.5" r="3.25"/><circle cx="901.9" cy="750" r="3.25"/><circle cx="898.4" cy="757.5" r="3.25"/><circle cx="902.6" cy="762.2" r="3.25"/><circle cx="893.4" cy="765.2" r="3.25"/><circle cx="903.6" cy="766.2" r="3.25"/><circle cx="898.1" cy="771.2" r="3.25"/><circle cx="926.6" cy="765.5" r="3.25"/><circle cx="930.4" cy="765.5" r="3.25"/><circle cx="929.6" cy="776.2" r="3.25"/><circle cx="894.4" cy="780.5" r="3.25"/><circle cx="899.4" cy="780.5" r="3.25"/><circle cx="908.4" cy="779.5" r="3.25"/><circle cx="927.4" cy="781.8" r="3.25"/><circle cx="938.1" cy="783.5" r="3.25"/><circle cx="895" cy="794.2" r="3.25"/><circle cx="898.4" cy="793.2" r="3.25"/><circle cx="901.1" cy="796.5" r="3.25"/><circle cx="898.1" cy="798.8" r="3.25"/><circle cx="898.9" cy="802" r="3.25"/><circle cx="896.9" cy="805.2" r="3.25"/><circle cx="900.6" cy="805" r="3.25"/><circle cx="901.4" cy="809.5" r="3.25"/><circle cx="906.4" cy="802.5" r="3.25"/><circle cx="888.4" cy="799.5" r="3.25"/><circle cx="879.4" cy="799.5" r="3.25"/><circle cx="877.4" cy="804.5" r="3.25"/><circle cx="878.4" cy="809.2" r="3.25"/><circle cx="799.4" cy="802.5" r="3.25"/><circle cx="833.4" cy="802.5" r="3.25"/><circle cx="849.4" cy="802.5" r="3.25"/><circle cx="858.4" cy="802.5" r="3.25"/><circle cx="829.4" cy="813.5" r="3.25"/><circle cx="861.4" cy="813.5" r="3.25"/><circle cx="720.6" cy="817.5" r="3.25"/><circle cx="861.4" cy="821.5" r="3.25"/><circle cx="872.6" cy="821.2" r="3.25"/><circle cx="874.4" cy="824.2" r="3.25"/><circle cx="839.4" cy="824.5" r="3.25"/><circle cx="832.4" cy="828.5" r="3.25"/><circle cx="926.4" cy="824.5" r="3.25"/><circle cx="896.4" cy="831.5" r="3.25"/><circle cx="853.6" cy="831.2" r="3.25"/><circle cx="858.4" cy="829.5" r="3.25"/><circle cx="859.4" cy="831.5" r="3.25"/><circle cx="863.4" cy="831.5" r="3.25"/><circle cx="847.4" cy="835.2" r="3.25"/><circle cx="872.6" cy="831.5" r="3.25"/><circle cx="875.1" cy="833.2" r="3.25"/><circle cx="877.9" cy="830" r="3.25"/><circle cx="881.2" cy="828.2" r="3.25"/><circle cx="884.1" cy="828.2" r="3.25"/><circle cx="864.1" cy="838" r="3.25"/><circle cx="869.4" cy="837.5" r="3.25"/><circle cx="870.6" cy="841.2" r="3.25"/><circle cx="874.4" cy="841.5" r="3.25"/><circle cx="881.4" cy="839.5" r="3.25"/><circle cx="884.1" cy="839.5" r="3.25"/><circle cx="855.4" cy="841.5" r="3.25"/><circle cx="836.1" cy="841.5" r="3.25"/><circle cx="841.6" cy="843.2" r="3.25"/><circle cx="846.4" cy="843.5" r="3.25"/><circle cx="838.4" cy="846.2" r="3.25"/><circle cx="867.4" cy="846.2" r="3.25"/><circle cx="880.4" cy="846.5" r="3.25"/><circle cx="813.4" cy="846.2" r="3.25"/><circle cx="813.4" cy="851.5" r="3.25"/><circle cx="740.4" cy="846.2" r="3.25"/><circle cx="710.4" cy="850.5" r="3.25"/><circle cx="747.4" cy="852.5" r="3.25"/><circle cx="756.4" cy="854.5" r="3.25"/><circle cx="761.4" cy="854.5" r="3.25"/><circle cx="775.4" cy="854.5" r="3.25"/><circle cx="784.4" cy="856.2" r="3.25"/><circle cx="793.4" cy="854.5" r="3.25"/><circle cx="794.4" cy="859.2" r="3.25"/><circle cx="829.4" cy="854.5" r="3.25"/><circle cx="837.4" cy="854.5" r="3.25"/><circle cx="859.4" cy="854.5" r="3.25"/><circle cx="867.4" cy="853.2" r="3.25"/><circle cx="869.4" cy="853.2" r="3.25"/><circle cx="885.4" cy="854.5" r="3.25"/><circle cx="861.4" cy="857.2" r="3.25"/><circle cx="735.4" cy="858.5" r="3.25"/><circle cx="811.1" cy="859.5" r="3.25"/><circle cx="816.1" cy="859.2" r="3.25"/><circle cx="810.4" cy="861.5" r="3.25"/><circle cx="822.4" cy="860.5" r="3.25"/><circle cx="825.4" cy="861.5" r="3.25"/><circle cx="834.4" cy="860.5" r="3.25"/><circle cx="834.4" cy="865.5" r="3.25"/><circle cx="824.4" cy="866.5" r="3.25"/><circle cx="848.4" cy="860.5" r="3.25"/><circle cx="852.4" cy="860.5" r="3.25"/><circle cx="849.4" cy="863.8" r="3.25"/><circle cx="860.4" cy="860.5" r="3.25"/><circle cx="866.4" cy="860.5" r="3.25"/><circle cx="883.4" cy="862.5" r="3.25"/><circle cx="892.4" cy="860.5" r="3.25"/><circle cx="700.4" cy="861.5" r="3.25"/><circle cx="721.4" cy="861.5" r="3.25"/><circle cx="725.4" cy="861.5" r="3.25"/><circle cx="759.4" cy="861.5" r="3.25"/><circle cx="766.4" cy="860.5" r="3.25"/><circle cx="765.4" cy="864.5" r="3.25"/><circle cx="743.4" cy="865.5" r="3.25"/><circle cx="781.4" cy="861.5" r="3.25"/><circle cx="784.4" cy="859.5" r="3.25"/><circle cx="776.4" cy="865.5" r="3.25"/><circle cx="772.4" cy="865.5" r="3.25"/><circle cx="783.4" cy="866.5" r="3.25"/><circle cx="794.4" cy="865.5" r="3.25"/><circle cx="804.4" cy="866.5" r="3.25"/><circle cx="864.4" cy="867.5" r="3.25"/><circle cx="700.6" cy="874.4" r="3.25"/><circle cx="713.4" cy="871" r="3.25"/><circle cx="714.4" cy="874.8" r="3.25"/><circle cx="717.5" cy="877.2" r="3.25"/><circle cx="726.2" cy="875.2" r="3.25"/><circle cx="732.4" cy="871" r="3.25"/><circle cx="743.4" cy="871.2" r="3.25"/><circle cx="741.9" cy="875.2" r="3.25"/><circle cx="744.4" cy="878.2" r="3.25"/><circle cx="754.4" cy="874.5" r="3.25"/><circle cx="759.4" cy="869.4" r="3.25"/><circle cx="770.6" cy="876.5" r="3.25"/><circle cx="776.4" cy="871.5" r="3.25"/><circle cx="774.4" cy="876.9" r="3.25"/><circle cx="779.4" cy="876.2" r="3.25"/><circle cx="787.5" cy="876.2" r="3.25"/><circle cx="788.4" cy="869.4" r="3.25"/><circle cx="791.6" cy="878.5" r="3.25"/><circle cx="701" cy="882.5" r="3.25"/><circle cx="710.4" cy="880.5" r="3.25"/><circle cx="708.8" cy="883.5" r="3.25"/><circle cx="723.8" cy="880" r="3.25"/><circle cx="725.6" cy="877.5" r="3.25"/><circle cx="726.6" cy="882.5" r="3.25"/><circle cx="731.2" cy="882.2" r="3.25"/><circle cx="736.2" cy="880.2" r="3.25"/><circle cx="726.2" cy="886.2" r="3.25"/><circle cx="742.5" cy="885.5" r="3.25"/><circle cx="771.2" cy="881.5" r="3.25"/><circle cx="763.1" cy="887" r="3.25"/><circle cx="761.2" cy="890.2" r="3.25"/><circle cx="712.5" cy="888.5" r="3.25"/><circle cx="717.5" cy="890.2" r="3.25"/><circle cx="751.6" cy="891.2" r="3.25"/><circle cx="785.6" cy="891.2" r="3.25"/><circle cx="786.2" cy="895.2" r="3.25"/><circle cx="792.5" cy="898.5" r="3.25"/><circle cx="726.6" cy="893.5" r="3.25"/><circle cx="723.4" cy="896.5" r="3.25"/><circle cx="738.1" cy="895" r="3.25"/><circle cx="739.1" cy="897.8" r="3.25"/><circle cx="740.6" cy="899.8" r="3.25"/><circle cx="748.1" cy="898" r="3.25"/><circle cx="749.4" cy="900" r="3.25"/><circle cx="746.9" cy="901.2" r="3.25"/><circle cx="747.5" cy="905.5" r="3.25"/><circle cx="725" cy="899.5" r="3.25"/><circle cx="727.5" cy="902.5" r="3.25"/><circle cx="709.4" cy="896.2" r="3.25"/><circle cx="713.1" cy="897.8" r="3.25"/><circle cx="716.2" cy="899.4" r="3.25"/><circle cx="715" cy="904.4" r="3.25"/><circle cx="706.2" cy="900.6" r="3.25"/><circle cx="701.9" cy="901.2" r="3.25"/><circle cx="773.5" cy="901.2" r="3.25"/><circle cx="787.5" cy="904.5" r="3.25"/><circle cx="735.6" cy="907.2" r="3.25"/><circle cx="754.4" cy="908.5" r="3.25"/><circle cx="778.5" cy="909.5" r="3.25"/><circle cx="708.8" cy="909.8" r="3.25"/><circle cx="712.5" cy="910.2" r="3.25"/><circle cx="730.6" cy="913.5" r="3.25"/><circle cx="706.9" cy="917.2" r="3.25"/><circle cx="711.2" cy="917.5" r="3.25"/><circle cx="709.4" cy="920.5" r="3.25"/><circle cx="726.6" cy="920.5" r="3.25"/><circle cx="722.5" cy="926.5" r="3.25"/><circle cx="702.5" cy="927.5" r="3.25"/><circle cx="798.4" cy="869.4" r="3.25"/><circle cx="801.2" cy="876" r="3.25"/><circle cx="800.4" cy="880.5" r="3.25"/><circle cx="807.4" cy="871.5" r="3.25"/><circle cx="810.6" cy="876.2" r="3.25"/><circle cx="813.4" cy="872.2" r="3.25"/><circle cx="825.4" cy="872.2" r="3.25"/><circle cx="829.4" cy="876.5" r="3.25"/><circle cx="835.4" cy="875.5" r="3.25"/><circle cx="847.4" cy="871.8" r="3.25"/><circle cx="848.4" cy="875" r="3.25"/><circle cx="849.4" cy="877.5" r="3.25"/><circle cx="856.4" cy="871" r="3.25"/><circle cx="867.4" cy="869.4" r="3.25"/><circle cx="865.6" cy="881.5" r="3.25"/><circle cx="880.4" cy="872.5" r="3.25"/><circle cx="878.4" cy="880.5" r="3.25"/><circle cx="891.4" cy="876.5" r="3.25"/><circle cx="862.5" cy="889.4" r="3.25"/><circle cx="864.4" cy="896.5" r="3.25"/><circle cx="874.4" cy="903.5" r="3.25"/><circle cx="803.4" cy="891.5" r="3.25"/><circle cx="800.4" cy="894.5" r="3.25"/><circle cx="814.4" cy="891.2" r="3.25"/><circle cx="816.4" cy="896.2" r="3.25"/><circle cx="824.4" cy="900.5" r="3.25"/><circle cx="831.4" cy="895.2" r="3.25"/><circle cx="832.4" cy="897.5" r="3.25"/><circle cx="837.4" cy="903.5" r="3.25"/><circle cx="842.4" cy="900.5" r="3.25"/><circle cx="848.4" cy="898.5" r="3.25"/><circle cx="853.4" cy="906.5" r="3.25"/><circle cx="855.4" cy="910.5" r="3.25"/><circle cx="858.4" cy="909.5" r="3.25"/><circle cx="848.4" cy="924.5" r="3.25"/><circle cx="834.4" cy="936.5" r="3.25"/><circle cx="813.1" cy="867.6" r="3.25"/><circle cx="855.4" cy="867.9" r="3.25"/><circle cx="675.4" cy="873.5" r="3.25"/><circle cx="681.4" cy="876.5" r="3.25"/><circle cx="699.4" cy="874.5" r="3.25"/><circle cx="649.4" cy="881.2" r="3.25"/><circle cx="670.9" cy="882.5" r="3.25"/><circle cx="697.5" cy="883.1" r="3.25"/><circle cx="660.6" cy="887.2" r="3.25"/><circle cx="665.6" cy="886.2" r="3.25"/><circle cx="671.2" cy="887.2" r="3.25"/><circle cx="666.2" cy="890.6" r="3.25"/><circle cx="628.4" cy="891.2" r="3.25"/><circle cx="643.4" cy="893.2" r="3.25"/><circle cx="667.5" cy="895.5" r="3.25"/><circle cx="680.4" cy="895.2" r="3.25"/><circle cx="676.9" cy="898.2" r="3.25"/><circle cx="688.8" cy="896.2" r="3.25"/><circle cx="695.6" cy="895.5" r="3.25"/><circle cx="627.5" cy="897.2" r="3.25"/><circle cx="638.4" cy="899.5" r="3.25"/><circle cx="654.4" cy="900.5" r="3.25"/><circle cx="655.4" cy="903.2" r="3.25"/><circle cx="663.4" cy="903.2" r="3.25"/><circle cx="673.4" cy="904.2" r="3.25"/><circle cx="680.6" cy="902.8" r="3.25"/><circle cx="691.2" cy="899.5" r="3.25"/><circle cx="693.8" cy="902.8" r="3.25"/><circle cx="698.1" cy="902.5" r="3.25"/><circle cx="622.4" cy="904.2" r="3.25"/><circle cx="629.4" cy="904.2" r="3.25"/><circle cx="615.6" cy="906.5" r="3.25"/><circle cx="616.4" cy="909.5" r="3.25"/><circle cx="668.4" cy="908.2" r="3.25"/><circle cx="683.8" cy="906.2" r="3.25"/><circle cx="685" cy="908.8" r="3.25"/><circle cx="696.2" cy="907.5" r="3.25"/><circle cx="698.8" cy="910" r="3.25"/><circle cx="643.4" cy="909" r="3.25"/><circle cx="645.4" cy="912" r="3.25"/><circle cx="633.8" cy="911.2" r="3.25"/><circle cx="661.6" cy="911.2" r="3.25"/><circle cx="656.4" cy="912.5" r="3.25"/><circle cx="647.4" cy="915" r="3.25"/><circle cx="678.1" cy="913.5" r="3.25"/><circle cx="674.4" cy="915" r="3.25"/><circle cx="672.4" cy="917.5" r="3.25"/><circle cx="682.5" cy="916.5" r="3.25"/><circle cx="656.4" cy="917.2" r="3.25"/><circle cx="633.8" cy="916.9" r="3.25"/><circle cx="635.6" cy="920" r="3.25"/><circle cx="615" cy="918.8" r="3.25"/><circle cx="626.4" cy="919.5" r="3.25"/><circle cx="640.4" cy="923.5" r="3.25"/><circle cx="670.4" cy="923.5" r="3.25"/><circle cx="677.4" cy="925.2" r="3.25"/><circle cx="691.4" cy="924.5" r="3.25"/><circle cx="626.4" cy="926.5" r="3.25"/><circle cx="650.4" cy="926.2" r="3.25"/><circle cx="652.4" cy="929.2" r="3.25"/><circle cx="638.4" cy="928.8" r="3.25"/><circle cx="635.4" cy="932" r="3.25"/><circle cx="642.6" cy="932.2" r="3.25"/><circle cx="632.4" cy="935.2" r="3.25"/><circle cx="615.4" cy="931.5" r="3.25"/><circle cx="616.4" cy="935.2" r="3.25"/><circle cx="688.6" cy="934.5" r="3.25"/><circle cx="676.6" cy="948.5" r="3.25"/><circle cx="612.4" cy="951.5" r="3.25"/><circle cx="641.4" cy="959.5" r="3.25"/><circle cx="595.4" cy="871" r="3.25"/><circle cx="601.4" cy="876.2" r="3.25"/><circle cx="599.4" cy="886.2" r="3.25"/><circle cx="603.4" cy="887.2" r="3.25"/><circle cx="554.4" cy="895.5" r="3.25"/><circle cx="561.4" cy="900.5" r="3.25"/><circle cx="585.4" cy="901.2" r="3.25"/><circle cx="587.4" cy="903.2" r="3.25"/><circle cx="602.4" cy="903.5" r="3.25"/><circle cx="605" cy="906.5" r="3.25"/><circle cx="580.4" cy="907.2" r="3.25"/><circle cx="570.4" cy="911.2" r="3.25"/><circle cx="547.4" cy="910.5" r="3.25"/><circle cx="556.4" cy="912.5" r="3.25"/><circle cx="590.4" cy="912.2" r="3.25"/><circle cx="605.4" cy="912.5" r="3.25"/><circle cx="577.5" cy="913.5" r="3.25"/><circle cx="583.1" cy="915" r="3.25"/><circle cx="585.4" cy="916.2" r="3.25"/><circle cx="596.2" cy="916.2" r="3.25"/><circle cx="598.1" cy="919.4" r="3.25"/><circle cx="568.8" cy="915" r="3.25"/><circle cx="564.4" cy="918.1" r="3.25"/><circle cx="560" cy="919.4" r="3.25"/><circle cx="555" cy="919.4" r="3.25"/><circle cx="555.6" cy="921.9" r="3.25"/><circle cx="573.4" cy="919.2" r="3.25"/><circle cx="566.2" cy="924.5" r="3.25"/><circle cx="548.4" cy="919.2" r="3.25"/><circle cx="545" cy="920.5" r="3.25"/><circle cx="538.4" cy="923.5" r="3.25"/><circle cx="589.4" cy="923.5" r="3.25"/><circle cx="600.4" cy="922.5" r="3.25"/><circle cx="600" cy="926.2" r="3.25"/><circle cx="600.4" cy="929.5" r="3.25"/><circle cx="591.2" cy="926.2" r="3.25"/><circle cx="586.2" cy="927.5" r="3.25"/><circle cx="580.6" cy="925.2" r="3.25"/><circle cx="576.2" cy="927.5" r="3.25"/><circle cx="581.2" cy="930" r="3.25"/><circle cx="541.2" cy="930" r="3.25"/><circle cx="546.2" cy="930.2" r="3.25"/><circle cx="536.2" cy="930" r="3.25"/><circle cx="535" cy="932.5" r="3.25"/><circle cx="559.4" cy="935.2" r="3.25"/><circle cx="548.4" cy="937.5" r="3.25"/><circle cx="590.4" cy="935.2" r="3.25"/><circle cx="599.4" cy="936.2" r="3.25"/><circle cx="581.2" cy="937.5" r="3.25"/><circle cx="588.4" cy="940.5" r="3.25"/><circle cx="567.5" cy="940.5" r="3.25"/><circle cx="569.4" cy="944.2" r="3.25"/><circle cx="551.2" cy="942.2" r="3.25"/><circle cx="556.2" cy="941.2" r="3.25"/><circle cx="558.1" cy="941.5" r="3.25"/><circle cx="540.4" cy="943.2" r="3.25"/><circle cx="565.4" cy="949.2" r="3.25"/><circle cx="548.4" cy="952.5" r="3.25"/><circle cx="572.4" cy="955.5" r="3.25"/><circle cx="547.4" cy="975.5" r="3.25"/><circle cx="487.4" cy="888.5" r="3.25"/><circle cx="527.4" cy="900.5" r="3.25"/><circle cx="531.6" cy="903.5" r="3.25"/><circle cx="489.4" cy="906.5" r="3.25"/><circle cx="508.4" cy="907.2" r="3.25"/><circle cx="509.4" cy="910" r="3.25"/><circle cx="511.4" cy="912.5" r="3.25"/><circle cx="496.4" cy="913.5" r="3.25"/><circle cx="523.4" cy="913.5" r="3.25"/><circle cx="532.4" cy="917.5" r="3.25"/><circle cx="499.4" cy="919.5" r="3.25"/><circle cx="470.4" cy="919.5" r="3.25"/><circle cx="476.9" cy="920.5" r="3.25"/><circle cx="475.4" cy="921.5" r="3.25"/><circle cx="512.4" cy="922.5" r="3.25"/><circle cx="520.4" cy="920" r="3.25"/><circle cx="521.2" cy="923.1" r="3.25"/><circle cx="525" cy="924.5" r="3.25"/><circle cx="531.2" cy="924.5" r="3.25"/><circle cx="488.4" cy="926.2" r="3.25"/><circle cx="466.2" cy="928.8" r="3.25"/><circle cx="471.9" cy="929" r="3.25"/><circle cx="474.4" cy="931.2" r="3.25"/><circle cx="461.2" cy="932.5" r="3.25"/><circle cx="482.9" cy="932.2" r="3.25"/><circle cx="490.6" cy="932.2" r="3.25"/><circle cx="496.2" cy="932.2" r="3.25"/><circle cx="502.5" cy="932.2" r="3.25"/><circle cx="505" cy="931.2" r="3.25"/><circle cx="511.2" cy="930.2" r="3.25"/><circle cx="513.8" cy="933.8" r="3.25"/><circle cx="508.8" cy="935" r="3.25"/><circle cx="522.5" cy="933.8" r="3.25"/><circle cx="521.2" cy="936.2" r="3.25"/><circle cx="476.2" cy="935.6" r="3.25"/><circle cx="478.8" cy="937.5" r="3.25"/><circle cx="483.8" cy="937.5" r="3.25"/><circle cx="474.4" cy="938.8" r="3.25"/><circle cx="468.1" cy="938.1" r="3.25"/><circle cx="463.8" cy="938.1" r="3.25"/><circle cx="490.6" cy="938.1" r="3.25"/><circle cx="491.9" cy="941.2" r="3.25"/><circle cx="479.4" cy="943.8" r="3.25"/><circle cx="485.4" cy="942.2" r="3.25"/><circle cx="493.5" cy="944.8" r="3.25"/><circle cx="501.2" cy="942.5" r="3.25"/><circle cx="503.1" cy="945" r="3.25"/><circle cx="507.5" cy="940" r="3.25"/><circle cx="510" cy="942.5" r="3.25"/><circle cx="513.8" cy="938.8" r="3.25"/><circle cx="513.1" cy="941.9" r="3.25"/><circle cx="507.5" cy="945" r="3.25"/><circle cx="521.9" cy="939.4" r="3.25"/><circle cx="527.5" cy="941.2" r="3.25"/><circle cx="532.5" cy="940" r="3.25"/><circle cx="533.8" cy="935" r="3.25"/><circle cx="535.6" cy="933.8" r="3.25"/><circle cx="529.4" cy="947.5" r="3.25"/><circle cx="532.5" cy="949.2" r="3.25"/><circle cx="463.1" cy="945" r="3.25"/><circle cx="465" cy="947.5" r="3.25"/><circle cx="467.5" cy="950" r="3.25"/><circle cx="474.4" cy="951.5" r="3.25"/><circle cx="490.4" cy="954.5" r="3.25"/><circle cx="500" cy="951.2" r="3.25"/><circle cx="502.5" cy="954.4" r="3.25"/><circle cx="506" cy="956.5" r="3.25"/><circle cx="511.4" cy="951.5" r="3.25"/><circle cx="463.8" cy="955" r="3.25"/><circle cx="461.2" cy="957.5" r="3.25"/><circle cx="468.4" cy="963.2" r="3.25"/><circle cx="460.6" cy="964.5" r="3.25"/><circle cx="487.4" cy="962.5" r="3.25"/><circle cx="494.4" cy="969.5" r="3.25"/><circle cx="461.9" cy="972.5" r="3.25"/><circle cx="503.4" cy="978.5" r="3.25"/><circle cx="473.4" cy="980.5" r="3.25"/><circle cx="461.9" cy="981.2" r="3.25"/><circle cx="506.2" cy="932.5" r="3.25"/><circle cx="510" cy="937.5" r="3.25"/><circle cx="512.5" cy="936.2" r="3.25"/><circle cx="503.8" cy="940" r="3.25"/><circle cx="505" cy="947.5" r="3.25"/><circle cx="501.2" cy="946.2" r="3.25"/><circle cx="511.2" cy="945" r="3.25"/><circle cx="515" cy="941.2" r="3.25"/><circle cx="498.8" cy="943.8" r="3.25"/><circle cx="557.5" cy="920" r="3.25"/><circle cx="562.5" cy="919.4" r="3.25"/><circle cx="566.2" cy="916.9" r="3.25"/><circle cx="553.1" cy="921.2" r="3.25"/><circle cx="558.8" cy="921.9" r="3.25"/><circle cx="578.1" cy="926.9" r="3.25"/><circle cx="583.8" cy="928.1" r="3.25"/><circle cx="588.8" cy="925.6" r="3.25"/><circle cx="592.5" cy="927.5" r="3.25"/><circle cx="580.6" cy="913.8" r="3.25"/><circle cx="585" cy="913.8" r="3.25"/><circle cx="538.8" cy="928.8" r="3.25"/><circle cx="543.8" cy="930.2" r="3.25"/><circle cx="532.5" cy="936.2" r="3.25"/><circle cx="535" cy="926.9" r="3.25"/><circle cx="522.5" cy="921.9" r="3.25"/><circle cx="523.1" cy="937.5" r="3.25"/><circle cx="525" cy="940" r="3.25"/><circle cx="461.2" cy="943.8" r="3.25"/><circle cx="462.5" cy="950" r="3.25"/><circle cx="464.4" cy="952.5" r="3.25"/><circle cx="461.9" cy="953.8" r="3.25"/><circle cx="477.5" cy="933.8" r="3.25"/><circle cx="481.2" cy="935.6" r="3.25"/><circle cx="475" cy="936.9" r="3.25"/><circle cx="690.6" cy="901.2" r="3.25"/><circle cx="694.4" cy="905" r="3.25"/><circle cx="696.9" cy="904.4" r="3.25"/><circle cx="692.5" cy="898.1" r="3.25"/><circle cx="680" cy="900" r="3.25"/><circle cx="682.5" cy="907.5" r="3.25"/><circle cx="351.4" cy="876.5" r="3.25"/><circle cx="316.4" cy="909.5" r="3.25"/><circle cx="410" cy="917.5" r="3.25"/><circle cx="412.5" cy="917.8" r="3.25"/><circle cx="415.4" cy="989.5" r="3.25"/><circle cx="225.4" cy="939.2" r="3.25"/><circle cx="220.6" cy="945.6" r="3.25"/><circle cx="223.1" cy="946.2" r="3.25"/><circle cx="229.4" cy="950" r="3.25"/><circle cx="232.5" cy="950.6" r="3.25"/><circle cx="235.6" cy="950.6" r="3.25"/><circle cx="222.5" cy="954.5" r="3.25"/><circle cx="228.4" cy="959.2" r="3.25"/><circle cx="223.4" cy="963.5" r="3.25"/><circle cx="236.2" cy="958.2" r="3.25"/><circle cx="243.1" cy="925.6" r="3.25"/><circle cx="246.2" cy="928.1" r="3.25"/><circle cx="242.5" cy="930" r="3.25"/><circle cx="253.8" cy="931.2" r="3.25"/><circle cx="261.9" cy="928.1" r="3.25"/><circle cx="261.2" cy="930.6" r="3.25"/><circle cx="270.6" cy="927.5" r="3.25"/><circle cx="275" cy="925.6" r="3.25"/><circle cx="273.8" cy="928.8" r="3.25"/><circle cx="280.6" cy="928.1" r="3.25"/><circle cx="287.4" cy="926.2" r="3.25"/><circle cx="278.8" cy="934.4" r="3.25"/><circle cx="276.2" cy="936.2" r="3.25"/><circle cx="266.2" cy="936.2" r="3.25"/><circle cx="240" cy="936.9" r="3.25"/><circle cx="244.4" cy="936.9" r="3.25"/><circle cx="248.1" cy="937.5" r="3.25"/><circle cx="250.6" cy="938.8" r="3.25"/><circle cx="245" cy="941.9" r="3.25"/><circle cx="248.1" cy="943.1" r="3.25"/><circle cx="252.5" cy="943.1" r="3.25"/><circle cx="258.1" cy="938.8" r="3.25"/><circle cx="261.2" cy="941.2" r="3.25"/><circle cx="265.6" cy="943.1" r="3.25"/><circle cx="268.8" cy="940" r="3.25"/><circle cx="272.5" cy="938.1" r="3.25"/><circle cx="241.9" cy="948.1" r="3.25"/><circle cx="245.6" cy="949.4" r="3.25"/><circle cx="246.2" cy="953.5" r="3.25"/><circle cx="252.4" cy="952.5" r="3.25"/><circle cx="259.4" cy="948.1" r="3.25"/><circle cx="261.2" cy="952.5" r="3.25"/><circle cx="258.4" cy="958.2" r="3.25"/><circle cx="241.2" cy="958.2" r="3.25"/><circle cx="247.4" cy="964.5" r="3.25"/><circle cx="302.4" cy="925.2" r="3.25"/><circle cx="296.2" cy="931.2" r="3.25"/><circle cx="301.2" cy="932.5" r="3.25"/><circle cx="294.4" cy="935" r="3.25"/><circle cx="293.1" cy="938.8" r="3.25"/><circle cx="297.5" cy="940" r="3.25"/><circle cx="302.5" cy="939.4" r="3.25"/><circle cx="308.4" cy="940.2" r="3.25"/><circle cx="314.4" cy="936.2" r="3.25"/><circle cx="314.4" cy="942.2" r="3.25"/><circle cx="323.4" cy="940.2" r="3.25"/><circle cx="325.4" cy="946.2" r="3.25"/><circle cx="312.5" cy="947.5" r="3.25"/><circle cx="317.4" cy="949.2" r="3.25"/><circle cx="303.1" cy="945" r="3.25"/><circle cx="305.6" cy="950" r="3.25"/><circle cx="300" cy="953.8" r="3.25"/><circle cx="298.1" cy="951.9" r="3.25"/><circle cx="291.9" cy="945" r="3.25"/><circle cx="289.4" cy="948.8" r="3.25"/><circle cx="286.9" cy="946.2" r="3.25"/><circle cx="288.1" cy="950.6" r="3.25"/><circle cx="280" cy="945" r="3.25"/><circle cx="276.9" cy="948.1" r="3.25"/><circle cx="275" cy="950" r="3.25"/><circle cx="307.5" cy="961.2" r="3.25"/><circle cx="310.6" cy="961.2" r="3.25"/><circle cx="321.4" cy="959.2" r="3.25"/><circle cx="341.4" cy="925.2" r="3.25"/><circle cx="360.4" cy="923.2" r="3.25"/><circle cx="369.4" cy="930.2" r="3.25"/><circle cx="344.4" cy="933.1" r="3.25"/><circle cx="336.4" cy="937.5" r="3.25"/><circle cx="343.1" cy="938.1" r="3.25"/><circle cx="359.4" cy="934.4" r="3.25"/><circle cx="363.4" cy="935.6" r="3.25"/><circle cx="380.4" cy="935.2" r="3.25"/><circle cx="354.4" cy="938.8" r="3.25"/><circle cx="357.5" cy="941.9" r="3.25"/><circle cx="361.2" cy="941.9" r="3.25"/><circle cx="347.5" cy="943.1" r="3.25"/><circle cx="352.5" cy="945" r="3.25"/><circle cx="341.2" cy="946.2" r="3.25"/><circle cx="344.4" cy="948.1" r="3.25"/><circle cx="337.5" cy="950" r="3.25"/><circle cx="336.2" cy="953.5" r="3.25"/><circle cx="366.2" cy="942.5" r="3.25"/><circle cx="370" cy="943.1" r="3.25"/><circle cx="374.4" cy="944.4" r="3.25"/><circle cx="379.4" cy="949.2" r="3.25"/><circle cx="361.9" cy="951.9" r="3.25"/><circle cx="366.9" cy="950" r="3.25"/><circle cx="371.9" cy="951.2" r="3.25"/><circle cx="373.8" cy="953.8" r="3.25"/><circle cx="355.6" cy="955.5" r="3.25"/><circle cx="358.8" cy="957.5" r="3.25"/><circle cx="373.4" cy="959.2" r="3.25"/><circle cx="357.4" cy="961.9" r="3.25"/><circle cx="343.4" cy="961.2" r="3.25"/><circle cx="357.4" cy="967.5" r="3.25"/><circle cx="379.4" cy="966.5" r="3.25"/><circle cx="390" cy="933.1" r="3.25"/><circle cx="387.5" cy="936.2" r="3.25"/><circle cx="392.5" cy="941.2" r="3.25"/><circle cx="391.2" cy="945.6" r="3.25"/><circle cx="401.2" cy="937.5" r="3.25"/><circle cx="403.8" cy="938.1" r="3.25"/><circle cx="408.8" cy="936.2" r="3.25"/><circle cx="410" cy="940" r="3.25"/><circle cx="406.2" cy="942.5" r="3.25"/><circle cx="400" cy="942.5" r="3.25"/><circle cx="398.8" cy="946.2" r="3.25"/><circle cx="397.5" cy="950" r="3.25"/><circle cx="396.2" cy="954.5" r="3.25"/><circle cx="416.4" cy="933.2" r="3.25"/><circle cx="417.5" cy="940.2" r="3.25"/><circle cx="413.4" cy="948.5" r="3.25"/><circle cx="404.4" cy="959.2" r="3.25"/><circle cx="407.5" cy="961.9" r="3.25"/><circle cx="411.2" cy="965.6" r="3.25"/><circle cx="415.4" cy="957.2" r="3.25"/><circle cx="419.4" cy="959.2" r="3.25"/><circle cx="421.2" cy="962.5" r="3.25"/><circle cx="454.4" cy="923.1" r="3.25"/><circle cx="451.2" cy="927.5" r="3.25"/><circle cx="455.6" cy="926.2" r="3.25"/><circle cx="435.6" cy="935" r="3.25"/><circle cx="439.4" cy="933.1" r="3.25"/><circle cx="443.8" cy="935" r="3.25"/><circle cx="453.8" cy="934.4" r="3.25"/><circle cx="428.8" cy="939.4" r="3.25"/><circle cx="432.5" cy="942.5" r="3.25"/><circle cx="428.8" cy="945" r="3.25"/><circle cx="426.2" cy="948.8" r="3.25"/><circle cx="435" cy="946.2" r="3.25"/><circle cx="431.2" cy="950" r="3.25"/><circle cx="426.2" cy="955" r="3.25"/><circle cx="422.5" cy="955" r="3.25"/><circle cx="442.5" cy="939.4" r="3.25"/><circle cx="446.2" cy="938.1" r="3.25"/><circle cx="448.8" cy="942.5" r="3.25"/><circle cx="445" cy="945" r="3.25"/><circle cx="451.2" cy="946.2" r="3.25"/><circle cx="456.2" cy="941.2" r="3.25"/><circle cx="458.8" cy="945" r="3.25"/><circle cx="453.8" cy="950" r="3.25"/><circle cx="443.8" cy="953.5" r="3.25"/><circle cx="451.2" cy="953.1" r="3.25"/><circle cx="456.2" cy="953.1" r="3.25"/><circle cx="441.4" cy="961.2" r="3.25"/><circle cx="435.4" cy="965.6" r="3.25"/><circle cx="438.4" cy="968.8" r="3.25"/><circle cx="452.5" cy="961.2" r="3.25"/><circle cx="456.2" cy="963.8" r="3.25"/><circle cx="458.8" cy="965" r="3.25"/><circle cx="458.1" cy="972.5" r="3.25"/><circle cx="459.4" cy="981.2" r="3.25"/><circle cx="241.2" cy="940" r="3.25"/><circle cx="246.9" cy="939.4" r="3.25"/><circle cx="250" cy="941.2" r="3.25"/><circle cx="255" cy="940" r="3.25"/><circle cx="257.5" cy="942.5" r="3.25"/><circle cx="263.8" cy="939.4" r="3.25"/><circle cx="270" cy="936.2" r="3.25"/><circle cx="275" cy="935" r="3.25"/><circle cx="277.5" cy="928.8" r="3.25"/><circle cx="243.8" cy="932.5" r="3.25"/><circle cx="248.8" cy="934.4" r="3.25"/><circle cx="272.5" cy="930.6" r="3.25"/><circle cx="263.1" cy="935" r="3.25"/><circle cx="293.8" cy="943.1" r="3.25"/><circle cx="290" cy="943.8" r="3.25"/><circle cx="285" cy="948.1" r="3.25"/><circle cx="282.5" cy="946.9" r="3.25"/><circle cx="296.2" cy="937.5" r="3.25"/><circle cx="300" cy="943.1" r="3.25"/><circle cx="305" cy="945.6" r="3.25"/><circle cx="301.2" cy="949.4" r="3.25"/><circle cx="345" cy="943.8" r="3.25"/><circle cx="350" cy="941.2" r="3.25"/><circle cx="356.2" cy="938.1" r="3.25"/><circle cx="361.2" cy="937.5" r="3.25"/><circle cx="363.8" cy="941.9" r="3.25"/><circle cx="368.8" cy="945" r="3.25"/><circle cx="340" cy="948.1" r="3.25"/><circle cx="364.4" cy="950" r="3.25"/><circle cx="369.4" cy="950.6" r="3.25"/><circle cx="402.5" cy="941.2" r="3.25"/><circle cx="407.5" cy="939.4" r="3.25"/><circle cx="405" cy="945" r="3.25"/><circle cx="401.2" cy="945" r="3.25"/><circle cx="407.5" cy="945" r="3.25"/><circle cx="410" cy="946.9" r="3.25"/><circle cx="407.5" cy="950" r="3.25"/><circle cx="410" cy="950" r="3.25"/><circle cx="431.2" cy="940" r="3.25"/><circle cx="433.8" cy="945" r="3.25"/><circle cx="430" cy="947.5" r="3.25"/><circle cx="432.5" cy="951.2" r="3.25"/><circle cx="428.8" cy="952.5" r="3.25"/><circle cx="437.5" cy="937.5" r="3.25"/><circle cx="441.2" cy="936.2" r="3.25"/><circle cx="445" cy="941.2" r="3.25"/><circle cx="447.5" cy="946.2" r="3.25"/><circle cx="450" cy="943.8" r="3.25"/><circle cx="452.5" cy="941.2" r="3.25"/><circle cx="455" cy="945" r="3.25"/><circle cx="457.5" cy="950" r="3.25"/><circle cx="452.5" cy="951.2" r="3.25"/><circle cx="448.8" cy="950" r="3.25"/><circle cx="426.2" cy="945" r="3.25"/><circle cx="211.4" cy="920.5" r="3.25"/><circle cx="213.4" cy="928.5" r="3.25"/><circle cx="214.4" cy="937.5" r="3.25"/><circle cx="199.4" cy="937.5" r="3.25"/><circle cx="201.9" cy="940.6" r="3.25"/><circle cx="207.4" cy="940.2" r="3.25"/><circle cx="199.4" cy="945.6" r="3.25"/><circle cx="210" cy="943.1" r="3.25"/><circle cx="208.8" cy="946.2" r="3.25"/><circle cx="216.2" cy="945" r="3.25"/><circle cx="194.4" cy="950" r="3.25"/><circle cx="196.9" cy="953.1" r="3.25"/><circle cx="200.6" cy="956.2" r="3.25"/><circle cx="204.4" cy="954.4" r="3.25"/><circle cx="206.2" cy="950" r="3.25"/><circle cx="211.2" cy="950.6" r="3.25"/><circle cx="215.4" cy="955.5" r="3.25"/><circle cx="192.4" cy="959.5" r="3.25"/><circle cx="194.4" cy="966.9" r="3.25"/><circle cx="193.1" cy="968.8" r="3.25"/><circle cx="680.3" cy="867.3" r="3.25"/><circle cx="1074.3" cy="891.5" r="3.25"/><circle cx="909.9" cy="590.2" r="3.25"/>
</g>
<rect x="1685.5" y="829" width="196.5" height="198" fill="#fff"/>
<g font-weight="bold" stroke-width="0.7" stroke-linejoin="round">
<text x="1697.3" y="887.8" font-size="43.5" fill="#17499a" stroke="#17499a" textLength="109.4" lengthAdjust="spacingAndGlyphs">Jerry</text>
<text x="1697.5" y="931" font-size="42" fill="#1592d4" stroke="#1592d4" textLength="170.6" lengthAdjust="spacingAndGlyphs">Charlton</text>
<text x="1697.5" y="960.4" font-size="30.5" fill="#14509f" stroke="#14509f" textLength="168" lengthAdjust="spacingAndGlyphs">Real Estate</text>
<text x="1696" y="996" font-size="27.5" fill="#000" stroke="#000" textLength="177" lengthAdjust="spacingAndGlyphs">403 831 0842</text>
</g>
<path d="M1739.8 904.6L1763.5 890L1787.2 904.6" fill="none" stroke="#b4c6dc" stroke-width="2.2" stroke-linejoin="miter"/>
<path d="M1760.2 900h2.9v2.9h-2.9zM1764.1 900h2.9v2.9h-2.9zM1760.2 903.9h2.9v2.9h-2.9zM1764.1 903.9h2.9v2.9h-2.9z" fill="#8ea6c6"/>
<rect x="111.5" y="70.5" width="1791.0" height="966.0" fill="none" stroke="#000" stroke-width="1.33"/>
<g stroke="#000" stroke-width="1.33">
<path d="M237.5 1036.5v6.3"/>
<path d="M423.5 1036.5v6.3"/>
<path d="M609.5 1036.5v6.3"/>
<path d="M795.5 1036.5v6.3"/>
<path d="M981.5 1036.5v6.3"/>
<path d="M1168.5 1036.5v6.3"/>
<path d="M1354.5 1036.5v6.3"/>
<path d="M1540.5 1036.5v6.3"/>
<path d="M1726.5 1036.5v6.3"/>
<path d="M111.5 1036.5h-6.3"/>
<path d="M111.5 961.5h-6.3"/>
<path d="M111.5 887.5h-6.3"/>
<path d="M111.5 813.5h-6.3"/>
<path d="M111.5 739.5h-6.3"/>
<path d="M111.5 664.5h-6.3"/>
<path d="M111.5 590.5h-6.3"/>
<path d="M111.5 516.5h-6.3"/>
<path d="M111.5 442.5h-6.3"/>
<path d="M111.5 367.5h-6.3"/>
<path d="M111.5 293.5h-6.3"/>
<path d="M111.5 219.5h-6.3"/>
<path d="M111.5 145.5h-6.3"/>
<path d="M111.5 70.5h-6.3"/>
</g>
<g font-size="15.4" fill="#1c1c1c">
<text x="221.3" y="1059.2" textLength="31.2" lengthAdjust="spacingAndGlyphs">1992</text>
<text x="407.3" y="1059.2" textLength="31.2" lengthAdjust="spacingAndGlyphs">1996</text>
<text x="593.3" y="1059.2" textLength="31.2" lengthAdjust="spacingAndGlyphs">2000</text>
<text x="779.3" y="1059.2" textLength="31.2" lengthAdjust="spacingAndGlyphs">2004</text>
<text x="965.3" y="1059.2" textLength="31.2" lengthAdjust="spacingAndGlyphs">2008</text>
<text x="1152.3" y="1059.2" textLength="31.2" lengthAdjust="spacingAndGlyphs">2012</text>
<text x="1338.3" y="1059.2" textLength="31.2" lengthAdjust="spacingAndGlyphs">2016</text>
<text x="1524.3" y="1059.2" textLength="31.2" lengthAdjust="spacingAndGlyphs">2020</text>
<text x="1710.3" y="1059.2" textLength="31.2" lengthAdjust="spacingAndGlyphs">2024</text>
<text x="80.6" y="1041.1" textLength="16.6" lengthAdjust="spacingAndGlyphs">$0</text>
<text x="32.7" y="967.1" textLength="64.5" lengthAdjust="spacingAndGlyphs">$100,000</text>
<text x="28.5" y="893.1" textLength="68.7" lengthAdjust="spacingAndGlyphs">$200,000</text>
<text x="28.5" y="819.1" textLength="68.7" lengthAdjust="spacingAndGlyphs">$300,000</text>
<text x="28.5" y="745.1" textLength="68.7" lengthAdjust="spacingAndGlyphs">$400,000</text>
<text x="28.5" y="670.1" textLength="68.7" lengthAdjust="spacingAndGlyphs">$500,000</text>
<text x="28.5" y="596.1" textLength="68.7" lengthAdjust="spacingAndGlyphs">$600,000</text>
<text x="28.5" y="522.1" textLength="68.7" lengthAdjust="spacingAndGlyphs">$700,000</text>
<text x="28.5" y="448.1" textLength="68.7" lengthAdjust="spacingAndGlyphs">$800,000</text>
<text x="28.5" y="373.1" textLength="68.7" lengthAdjust="spacingAndGlyphs">$900,000</text>
<text x="19.7" y="299.1" textLength="77.5" lengthAdjust="spacingAndGlyphs">$1,000,000</text>
<text x="23.8" y="225.1" textLength="73.4" lengthAdjust="spacingAndGlyphs">$1,100,000</text>
<text x="20.6" y="151.1" textLength="76.6" lengthAdjust="spacingAndGlyphs">$1,200,000</text>
<text x="20.6" y="76.1" textLength="76.6" lengthAdjust="spacingAndGlyphs">$1,300,000</text>
</g>
<text x="725.8" y="36.8" font-size="23" font-weight="bold" fill="#0a5a91" textLength="562.5" lengthAdjust="spacingAndGlyphs">Highland Park – Detached Home Sales History</text>
<text x="1720.4" y="47.9" font-size="13" font-style="italic" fill="#505050" textLength="163.9" lengthAdjust="spacingAndGlyphs">Over 1.5 Million Excluded</text>
</svg></body></html>
